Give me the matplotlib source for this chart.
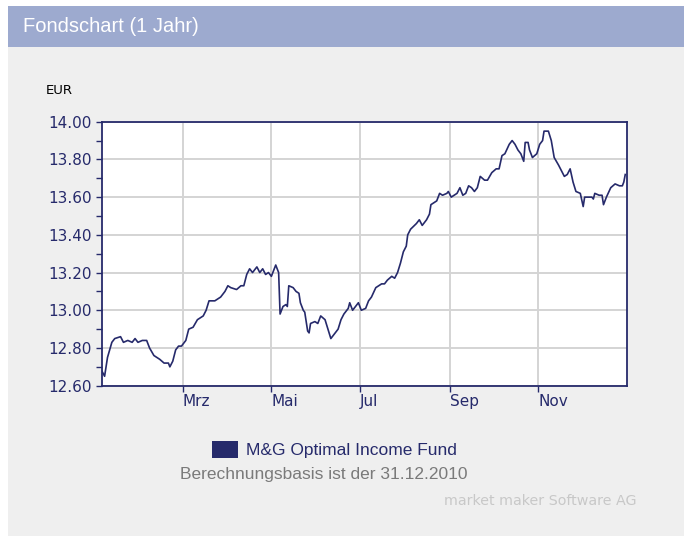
import datetime as dt
import matplotlib as mp
mp.use('Agg')
import matplotlib.pyplot as plt
import matplotlib.dates as mpd
from matplotlib.patches import Rectangle

#########################################################################
#          data (daily price, EUR)                   #
#########################################################################
fund_name = 'M&G Optimal Income Fund'
fund_dates = ['2010-01-04','2010-01-06','2010-01-08','2010-01-11','2010-01-13','2010-01-17',
	'2010-01-19','2010-01-22','2010-01-25','2010-01-27','2010-01-29','2010-02-01','2010-02-04',
	'2010-02-06','2010-02-09','2010-02-13','2010-02-16','2010-02-19','2010-02-20','2010-02-22',
	'2010-02-24','2010-02-26','2010-02-28','2010-03-03','2010-03-05','2010-03-08','2010-03-11',
	'2010-03-15','2010-03-17','2010-03-19','2010-03-23','2010-03-25','2010-03-27','2010-03-30',
	'2010-04-01','2010-04-03','2010-04-07','2010-04-10','2010-04-12','2010-04-14','2010-04-16',
	'2010-04-18','2010-04-21','2010-04-23','2010-04-25','2010-04-27','2010-04-29','2010-05-01',
	'2010-05-03','2010-05-04','2010-05-06','2010-05-07','2010-05-09','2010-05-11','2010-05-12',
	'2010-05-13','2010-05-16','2010-05-18','2010-05-20','2010-05-21','2010-05-23','2010-05-24',
	'2010-05-26','2010-05-27','2010-05-28','2010-05-31','2010-06-02','2010-06-04','2010-06-07',
	'2010-06-09','2010-06-11','2010-06-14','2010-06-16','2010-06-18','2010-06-20','2010-06-23',
	'2010-06-24','2010-06-26','2010-06-28','2010-06-30','2010-07-02','2010-07-05','2010-07-07',
	'2010-07-09','2010-07-12','2010-07-16','2010-07-18','2010-07-20','2010-07-23','2010-07-25',
	'2010-07-27','2010-07-29','2010-07-31','2010-08-02','2010-08-03','2010-08-05','2010-08-09',
	'2010-08-11','2010-08-13','2010-08-16','2010-08-18','2010-08-19','2010-08-23','2010-08-25',
	'2010-08-27','2010-08-30','2010-08-31','2010-09-02','2010-09-06','2010-09-08','2010-09-10',
	'2010-09-12','2010-09-14','2010-09-16','2010-09-18','2010-09-20','2010-09-22','2010-09-25',
	'2010-09-27','2010-09-30','2010-10-03','2010-10-05','2010-10-07','2010-10-09','2010-10-12',
	'2010-10-14','2010-10-16','2010-10-18','2010-10-20','2010-10-22','2010-10-23','2010-10-25',
	'2010-10-26','2010-10-28','2010-10-31','2010-11-02','2010-11-04','2010-11-05','2010-11-08',
	'2010-11-10','2010-11-12','2010-11-15','2010-11-17','2010-11-19','2010-11-21','2010-11-23',
	'2010-11-25','2010-11-27','2010-11-30','2010-12-02','2010-12-03','2010-12-06','2010-12-08',
	'2010-12-09','2010-12-10','2010-12-13','2010-12-15','2010-12-16','2010-12-18','2010-12-21',
	'2010-12-24','2010-12-27','2010-12-29','2010-12-30','2010-12-31']
fund_values = [12.68,12.65,12.75,12.83,12.85,12.86,
	12.83,12.84,12.83,12.85,12.83,12.84,12.84,
	12.80,12.76,12.74,12.72,12.72,12.70,12.73,
	12.79,12.81,12.81,12.84,12.90,12.91,12.95,
	12.97,13.00,13.05,13.05,13.06,13.07,13.10,
	13.13,13.12,13.11,13.13,13.13,13.19,13.22,
	13.20,13.23,13.20,13.22,13.19,13.20,13.18,
	13.22,13.24,13.20,12.98,13.02,13.03,13.02,
	13.13,13.12,13.10,13.09,13.04,13.00,12.99,
	12.89,12.88,12.93,12.94,12.93,12.97,12.95,
	12.90,12.85,12.88,12.90,12.95,12.98,13.01,
	13.04,13.00,13.02,13.04,13.00,13.01,13.05,
	13.07,13.12,13.14,13.14,13.16,13.18,13.17,
	13.20,13.25,13.31,13.34,13.40,13.43,13.46,
	13.48,13.45,13.48,13.51,13.56,13.58,13.62,
	13.61,13.62,13.63,13.60,13.62,13.65,13.61,
	13.62,13.66,13.65,13.63,13.65,13.71,13.69,
	13.69,13.73,13.75,13.75,13.82,13.83,13.88,
	13.90,13.88,13.85,13.83,13.79,13.89,13.89,
	13.85,13.81,13.83,13.88,13.90,13.95,13.95,
	13.90,13.81,13.77,13.74,13.71,13.72,13.75,
	13.68,13.63,13.62,13.55,13.60,13.60,13.60,
	13.59,13.62,13.61,13.61,13.56,13.60,13.65,
	13.67,13.66,13.66,13.68,13.72]
month_labels = ['Mrz','Mai','Jul','Sep','Nov']
month_ticks = ['2010-03-01','2010-05-01','2010-07-01','2010-09-01','2010-11-01']
y_ticks = [12.60,12.80,13.00,13.20,13.40,13.60,13.80,14.00]
y_range = [12.60, 14.00]
x_range = ['2010-01-04','2011-01-01']
title_txt = 'Fondschart (1 Jahr)'
basis_txt = 'Berechnungsbasis ist der 31.12.2010'
credit_txt = 'market maker Software AG'

#########################################################################
#          colours                                                      #
#########################################################################
navy = '#262a6b'
grid_col = '#d4d4d4'
panel_col = '#efefef'
header_col = '#9daacf'

def to_date(s):
	return dt.datetime.strptime(s,'%Y-%m-%d')

dates_plt = mpd.date2num([to_date(d) for d in fund_dates])
ticks_plt = mpd.date2num([to_date(d) for d in month_ticks])

W, H = 684., 536.
fig = plt.figure(figsize=(W/100, H/100), dpi=100, facecolor='white')

# background panel and header bar (drawn behind everything)
fig.patches.append(Rectangle((8/W, 0), 1-8/W, 1-47/H, transform=fig.transFigure, facecolor=panel_col, edgecolor='none', zorder=-10))
fig.patches.append(Rectangle((8/W, 1-47/H), 1-8/W, 41/H, transform=fig.transFigure, facecolor=header_col, edgecolor='none', zorder=-10))
fig.text(23/W, 1-27/H, title_txt, color='white', fontsize=14.5, family='Liberation Sans', va='center', ha='left')

#########################################################################
#          price chart                                                  #
#########################################################################
ax = fig.add_axes([101.7/W, 1-385.7/H, 525/W, 264/H], facecolor='white')
ax.set_zorder(5)
ax.plot_date(dates_plt, fund_values, marker='o', markersize=0, linestyle='solid', linewidth=1.2, color=navy, zorder=3)
ax.set_ylim(y_range)
ax.set_xlim(mpd.date2num([to_date(d) for d in x_range]))

ax.set_yticks(y_ticks)
ax.set_yticklabels(['%0.2f' % v for v in y_ticks])
ax.yaxis.set_minor_locator(mp.ticker.MultipleLocator(0.1))
ax.set_xticks(ticks_plt)
ax.set_xticklabels(month_labels, ha='left')
ax.tick_params(axis='both', which='both', direction='out', length=4, width=1, color=navy, labelcolor=navy, labelsize=11)
ax.tick_params(axis='y', pad=3)
ax.tick_params(axis='x', pad=2)
for lab in ax.get_xticklabels():
	lab.set_family('DejaVu Sans')
	lab.set_x(lab.get_position()[0])
for lab in ax.get_yticklabels():
	lab.set_family('DejaVu Sans')

ax.grid(True, which='major', color=grid_col, linewidth=1.4, zorder=1)
ax.set_axisbelow(True)
for sp in ax.spines.values():
	sp.set_color(navy)
	sp.set_linewidth(1.3)

fig.text(46/W, 1-90/H, 'EUR', color='black', fontsize=9.5, family='DejaVu Sans', va='center', ha='left')

#########################################################################
#          legend and footer                                            #
#########################################################################
fig.patches.append(Rectangle((212/W, 1-458/H), 26/W, 17/H, transform=fig.transFigure, facecolor=navy, edgecolor='none', zorder=2))
fig.text(246/W, 1-450/H, fund_name, color=navy, fontsize=12.5, family='Liberation Sans', va='center', ha='left')
fig.text(180/W, 1-475/H, basis_txt, color='#7a7a7a', fontsize=12.5, family='Liberation Sans', va='center', ha='left')
fig.text(636/W, 1-501/H, credit_txt, color='#c8c8c8', fontsize=10.3, family='DejaVu Sans', va='center', ha='right')

plt.savefig('out.png', dpi=100, facecolor=fig.get_facecolor())
plt.close()
